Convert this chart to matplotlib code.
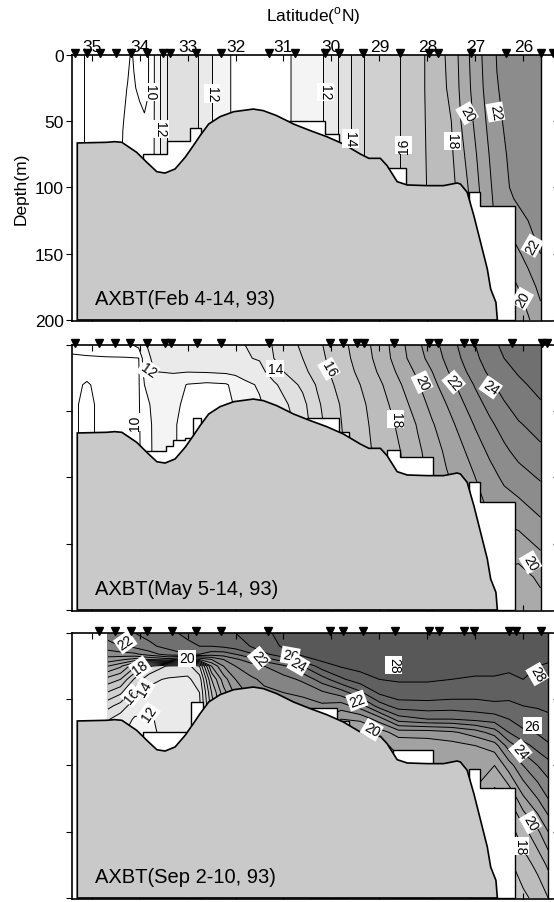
import matplotlib
matplotlib.use('Agg')
import matplotlib.pyplot as plt
from matplotlib.colors import ListedColormap, BoundaryNorm
import numpy as np

plt.rcParams.update({
    'font.family': ['Liberation Sans', 'DejaVu Sans'],
    'mathtext.fontset': 'custom',
    'mathtext.rm': 'Liberation Sans',
    'font.size': 12,
})

# ─── Bathymetry (same for all three sections) ────────────────
LAND_LAT = [35.30, 34.69, 34.52, 34.37, 34.06, 33.85, 33.64, 33.47, 33.26, 33.05,
            32.88, 32.74, 32.56, 32.32, 32.04, 31.63, 31.42, 31.14, 30.79, 30.44,
            30.10, 29.75, 29.40, 29.22, 28.98, 28.84, 28.63, 28.42, 28.00, 27.66,
            27.38, 27.31, 27.17, 27.03, 26.89, 26.75, 26.68, 26.57, 26.54]
LAND_DEP = [66.4, 65.9, 65.4, 65.9, 73.5, 81.0, 88.1, 89.1, 86.0, 77.2,
            68.4, 60.9, 52.1, 46.5, 42.8, 40.8, 42.0, 45.8, 52.1, 57.1,
            61.6, 67.2, 74.7, 78.0, 78.0, 83.5, 95.6, 98.1, 98.6, 98.6,
            96.6, 97.4, 103.6, 121.3, 141.4, 161.5, 176.6, 186.7, 200.0]

# ─── Feb 4-14 ────────────────────────────────────────────────
FEB_STATIONS = [35.35, 35.10, 34.83, 34.49, 34.18, 33.84, 33.51, 33.37, 32.83, 32.30,
                31.31, 30.76, 30.14, 29.85, 29.35, 28.58, 27.97, 27.78, 27.10, 26.35,
                25.63, 25.38]
FEB_DEP = [0, 25, 50, 75, 100, 125, 150, 175, 200]
FEB_LAT = [35.45, 35.25, 35.05, 34.60, 34.45, 34.35, 34.25, 34.17, 34.12, 34.00,
           33.90, 33.82, 33.75, 33.65, 33.52, 33.40, 33.10, 32.85, 32.63, 32.35,
           31.90, 31.30, 30.50, 30.20, 29.98, 29.72, 29.47, 29.20, 28.70, 28.30,
           27.85, 27.50, 27.30, 27.10, 26.85, 26.55, 26.20, 25.90, 25.64]
FEB_T = [
    [8.7, 8.7, 8.7, 8.7, 8.7, 8.7, 8.7, 8.7, 8.7],
    [8.8, 8.8, 8.8, 8.8, 8.8, 8.8, 8.8, 8.8, 8.8],
    [9.2, 9.2, 9.2, 9.2, 9.2, 9.2, 9.2, 9.2, 9.2],
    [9.5, 9.5, 9.5, 9.5, 9.5, 9.5, 9.5, 9.5, 9.5],
    [9.7, 9.7, 9.7, 9.7, 9.7, 9.7, 9.7, 9.7, 9.7],
    [9.80, 9.90, 9.98, 10.05, 10.1, 10.1, 10.1, 10.1, 10.1],
    [9.90, 10.02, 10.10, 10.20, 10.2, 10.2, 10.2, 10.2, 10.2],
    [10.05, 10.10, 10.20, 10.30, 10.3, 10.3, 10.3, 10.3, 10.3],
    [9.95, 10.05, 10.20, 10.30, 10.3, 10.3, 10.3, 10.3, 10.3],
    [9.80, 9.90, 10.15, 10.30, 10.3, 10.3, 10.3, 10.3, 10.3],
    [9.80, 9.85, 10.05, 10.30, 10.3, 10.3, 10.3, 10.3, 10.3],
    [9.96, 9.97, 10.10, 10.30, 10.3, 10.3, 10.3, 10.3, 10.3],
    [10.35, 10.35, 10.40, 10.45, 10.45, 10.45, 10.45, 10.45, 10.45],
    [11.5, 11.5, 11.5, 11.5, 11.5, 11.5, 11.5, 11.5, 11.5],
    [12.5, 12.5, 12.5, 12.5, 12.5, 12.5, 12.5, 12.5, 12.5],
    [13.2, 13.2, 13.2, 13.2, 13.2, 13.2, 13.2, 13.2, 13.2],
    [13.5, 13.5, 13.5, 13.5, 13.5, 13.5, 13.5, 13.5, 13.5],
    [13.2, 13.2, 13.2, 13.2, 13.2, 13.2, 13.2, 13.2, 13.2],
    [12.5, 12.5, 12.5, 12.5, 12.5, 12.5, 12.5, 12.5, 12.5],
    [11.5, 11.5, 11.5, 11.5, 11.5, 11.5, 11.5, 11.5, 11.5],
    [10.6, 10.6, 10.6, 10.6, 10.6, 10.6, 10.6, 10.6, 10.6],
    [10.6, 10.6, 10.6, 10.6, 10.6, 10.6, 10.6, 10.6, 10.6],
    [11.3, 11.3, 11.3, 11.3, 11.3, 11.3, 11.3, 11.3, 11.3],
    [11.9, 11.9, 11.9, 11.9, 11.9, 11.9, 11.9, 11.9, 11.9],
    [12.6, 12.6, 12.6, 12.6, 12.6, 12.6, 12.6, 12.6, 12.6],
    [13.5, 13.5, 13.5, 13.5, 13.5, 13.5, 13.5, 13.5, 13.5],
    [14.5, 14.5, 14.5, 14.5, 14.5, 14.5, 14.5, 14.5, 14.5],
    [15.4, 15.4, 15.4, 15.4, 15.4, 15.4, 15.4, 15.4, 15.4],
    [15.8, 15.8, 15.8, 15.8, 15.8, 15.8, 15.8, 15.8, 15.8],
    [16.4, 16.4, 16.4, 16.4, 16.4, 16.4, 16.4, 16.4, 16.4],
    [17.5, 17.5, 17.45, 17.4, 17.35, 17.3, 17.3, 17.3, 17.3],
    [18.3, 18.2, 18.0, 17.85, 17.7, 17.6, 17.6, 17.6, 17.6],
    [19.3, 19.2, 19.0, 18.7, 18.4, 18.2, 18.0, 18.0, 18.0],
    [20.1, 20.0, 19.8, 19.5, 19.2, 19.0, 18.8, 18.7, 18.6],
    [21.05, 20.95, 20.75, 20.5, 20.3, 20.1, 19.9, 19.7, 19.6],
    [22.05, 21.95, 21.8, 21.6, 21.4, 21.2, 20.8, 20.4, 20.0],
    [22.5, 22.45, 22.4, 22.3, 22.2, 21.6, 20.6, 19.8, 19.2],
    [22.7, 22.7, 22.65, 22.55, 22.4, 22.0, 21.4, 20.5, 19.9],
    [22.8, 22.8, 22.8, 22.7, 22.6, 22.4, 22.0, 21.3, 20.6],
]
FEB_GAPS = [
    [(33.93, 33.42, 74.7), (33.42, 32.95, 64.7), (32.95, 32.73, 55.3)],
    [(30.92, 30.13, 49.6), (30.13, 29.85, 60.0)],
    [(28.83, 28.45, 85.5)],
    [(27.14, 26.90, 103.6), (26.90, 26.17, 113.7)],
]
FEB_LABELS = [
    (33.78, 28, '10', -90), (33.57, 56, '12', -90), (32.49, 29, '12', -90),
    (30.13, 28, '12', -90), (29.61, 63, '14', -90), (28.49, 68, '16', 90),
    (27.48, 65, '18', -90), (27.17, 44, '20', -60), (26.58, 43, '22', -80),
    (25.81, 144, '22', 60), (26.02, 184, '20', 60),
]

# ─── May 5-14 ────────────────────────────────────────────────
MAY_STATIONS = [35.35, 34.84, 34.51, 34.20, 33.84, 33.47, 33.34, 32.81, 32.30, 31.31,
                30.04, 29.75, 29.47, 29.33, 28.70, 27.97, 27.78, 27.24, 27.03, 26.23,
                25.60, 25.50]
MAY_DEP = [0, 10, 20, 30, 45, 60, 80, 100, 125, 150, 175, 200]
MAY_LAT = [35.45, 35.10, 34.70, 34.30, 34.02, 33.90, 33.70, 33.30, 33.00, 32.60,
           32.20, 32.00, 31.80, 31.50, 31.20, 30.90, 30.60, 30.30, 30.00, 29.70,
           29.40, 29.10, 28.80, 28.50, 28.20, 27.90, 27.60, 27.30, 27.00, 26.70,
           26.40, 26.10, 25.64]
MAY_T = [
    [10.3, 9.85, 9.5, 9.3, 9.2, 9.2, 9.2, 9.2, 9.2, 9.2, 9.2, 9.2],
    [10.4, 9.9, 9.3, 8.9, 8.8, 8.8, 8.8, 8.8, 8.8, 8.8, 8.8, 8.8],
    [10.4, 9.95, 9.6, 9.4, 9.3, 9.3, 9.3, 9.3, 9.3, 9.3, 9.3, 9.3],
    [10.6, 9.95, 9.7, 9.6, 9.5, 9.5, 9.5, 9.5, 9.5, 9.5, 9.5, 9.5],
    [11.3, 9.98, 9.9, 9.9, 9.9, 9.9, 9.9, 9.9, 9.9, 9.9, 9.9, 9.9],
    [11.9, 11.6, 11.3, 11.0, 10.6, 10.4, 10.3, 10.3, 10.3, 10.3, 10.3, 10.3],
    [12.3, 12.2, 12.0, 11.6, 11.3, 11.2, 11.2, 11.2, 11.2, 11.2, 11.2, 11.2],
    [12.5, 12.4, 12.1, 11.4, 11.2, 11.1, 11.1, 11.1, 11.1, 11.1, 11.1, 11.1],
    [12.6, 12.5, 12.05, 10.95, 10.8, 10.7, 10.7, 10.7, 10.7, 10.7, 10.7, 10.7],
    [12.7, 12.6, 12.1, 10.8, 10.6, 10.6, 10.6, 10.6, 10.6, 10.6, 10.6, 10.6],
    [12.8, 12.7, 12.2, 10.9, 10.7, 10.6, 10.6, 10.6, 10.6, 10.6, 10.6, 10.6],
    [12.9, 12.8, 12.3, 11.3, 11.1, 11.0, 11.0, 11.0, 11.0, 11.0, 11.0, 11.0],
    [13.0, 12.9, 12.4, 11.8, 11.5, 11.4, 11.4, 11.4, 11.4, 11.4, 11.4, 11.4],
    [13.4, 13.1, 12.6, 12.1, 11.9, 11.8, 11.8, 11.8, 11.8, 11.8, 11.8, 11.8],
    [14.1, 14.0, 13.6, 12.8, 12.4, 12.2, 12.2, 12.2, 12.2, 12.2, 12.2, 12.2],
    [14.6, 14.5, 14.2, 13.6, 13.0, 12.7, 12.6, 12.6, 12.6, 12.6, 12.6, 12.6],
    [15.2, 15.0, 14.7, 14.2, 13.7, 13.5, 13.4, 13.4, 13.4, 13.4, 13.4, 13.4],
    [15.8, 15.7, 15.5, 15.1, 14.8, 14.6, 14.5, 14.5, 14.5, 14.5, 14.5, 14.5],
    [16.3, 16.2, 16.1, 15.9, 15.6, 15.5, 15.4, 15.4, 15.4, 15.4, 15.4, 15.4],
    [16.9, 16.8, 16.7, 16.5, 16.3, 16.2, 16.1, 16.1, 16.1, 16.1, 16.1, 16.1],
    [17.5, 17.4, 17.2, 17.0, 16.8, 16.7, 16.6, 16.6, 16.6, 16.6, 16.6, 16.6],
    [18.2, 18.1, 17.9, 17.6, 17.3, 17.2, 17.1, 17.0, 17.0, 17.0, 17.0, 17.0],
    [19.0, 18.9, 18.6, 18.3, 18.0, 17.8, 17.6, 17.5, 17.5, 17.5, 17.5, 17.5],
    [19.9, 19.8, 19.5, 19.1, 18.7, 18.3, 18.1, 18.0, 18.0, 18.0, 18.0, 18.0],
    [20.8, 20.6, 20.2, 19.9, 19.5, 19.1, 18.8, 18.6, 18.6, 18.6, 18.6, 18.6],
    [21.6, 21.4, 21.0, 20.7, 20.3, 19.9, 19.5, 19.3, 19.3, 19.3, 19.3, 19.3],
    [22.4, 22.2, 21.9, 21.5, 21.0, 20.6, 20.2, 19.9, 19.9, 19.9, 19.9, 19.9],
    [23.2, 23.0, 22.7, 22.3, 21.8, 21.3, 20.8, 20.4, 20.1, 20.1, 20.1, 20.1],
    [24.0, 23.8, 23.5, 23.1, 22.6, 22.1, 21.5, 21.0, 20.6, 20.6, 20.6, 20.6],
    [24.7, 24.5, 24.2, 23.8, 23.3, 22.8, 22.2, 21.6, 21.1, 20.6, 20.6, 20.6],
    [25.2, 25.0, 24.7, 24.4, 23.9, 23.4, 22.8, 22.2, 21.4, 20.5, 19.8, 19.3],
    [25.6, 25.4, 25.1, 24.8, 24.4, 23.9, 23.3, 22.6, 21.6, 20.6, 19.6, 19.0],
    [26.0, 25.8, 25.6, 25.3, 24.9, 24.4, 23.8, 23.1, 22.2, 21.2, 20.2, 19.6],
]
MAY_GAPS = [
    [(33.92, 33.44, 80.0), (33.44, 33.30, 76.0), (33.30, 33.05, 72.0),
     (33.05, 32.88, 70.0), (32.88, 32.73, 55.3)],
    [(30.50, 29.84, 55.3), (29.84, 29.63, 66.0)],
    [(28.85, 28.57, 79.2), (28.57, 27.88, 84.3)],
    [(27.14, 26.90, 103.6), (26.90, 26.17, 118.7)],
]
MAY_LABELS = [
    (34.10, 58, '10', 90), (33.82, 19, '12', -35), (31.17, 18, '14', 0),
    (30.05, 18, '16', -60), (28.66, 56, '18', -90), (28.11, 28, '20', -65),
    (27.45, 28, '22', -50), (26.68, 32, '24', -35), (25.85, 164, '20', -60),
]

# ─── Sep 2-10 ────────────────────────────────────────────────
SEP_STATIONS = [34.84, 34.51, 34.18, 33.84, 33.33, 32.83, 32.30, 31.33, 30.04, 29.76,
                29.34, 28.67, 27.97, 27.76, 27.24, 27.03, 26.30, 26.16, 25.63]
SEP_DEP = [0, 10, 16, 20, 25, 35, 45, 55, 65, 75, 85, 100, 125, 150, 175, 200]
SEP_LAT = [34.66, 34.40, 34.10, 33.80, 33.40, 33.00, 32.75, 32.50, 32.25, 32.00,
           31.70, 31.40, 31.00, 30.60, 30.20, 29.80, 29.40, 29.00, 28.60, 28.00,
           27.50, 27.00, 26.60, 26.30, 26.00, 25.70, 25.48]
SEP_T = [
    [24.5, 23.6, 22.4, 21.6, 20.0, 17.6, 15.9, 14.3, 13.1, 12.6, 12.4, 12.3, 12.3, 12.3, 12.3, 12.3],
    [24.8, 24.0, 22.6, 21.2, 19.2, 17.0, 15.2, 13.6, 12.5, 12.1, 12.0, 12.0, 12.0, 12.0, 12.0, 12.0],
    [25.0, 24.3, 22.8, 20.6, 17.2, 14.8, 13.5, 12.4, 11.9, 11.8, 11.8, 11.8, 11.8, 11.8, 11.8, 11.8],
    [25.3, 24.8, 23.5, 21.0, 15.2, 13.2, 12.8, 12.3, 11.9, 11.8, 11.8, 11.8, 11.8, 11.8, 11.8, 11.8],
    [25.8, 25.3, 24.5, 21.5, 13.8, 12.9, 12.6, 12.4, 12.3, 12.3, 12.3, 12.3, 12.3, 12.3, 12.3, 12.3],
    [26.2, 25.8, 25.0, 20.0, 13.6, 12.8, 12.6, 12.5, 12.4, 12.4, 12.4, 12.4, 12.4, 12.4, 12.4, 12.4],
    [26.4, 26.0, 25.0, 21.0, 15.0, 13.5, 13.0, 12.8, 12.8, 12.8, 12.8, 12.8, 12.8, 12.8, 12.8, 12.8],
    [26.6, 26.0, 24.5, 22.0, 20.0, 18.0, 17.0, 16.5, 16.5, 16.5, 16.5, 16.5, 16.5, 16.5, 16.5, 16.5],
    [26.8, 26.2, 24.5, 23.0, 22.0, 20.5, 19.6, 19.2, 19.2, 19.2, 19.2, 19.2, 19.2, 19.2, 19.2, 19.2],
    [27.0, 26.5, 25.0, 23.8, 23.0, 22.0, 21.3, 21.0, 21.0, 21.0, 21.0, 21.0, 21.0, 21.0, 21.0, 21.0],
    [27.3, 27.0, 25.8, 24.5, 23.5, 22.8, 22.3, 22.0, 22.0, 22.0, 22.0, 22.0, 22.0, 22.0, 22.0, 22.0],
    [27.8, 27.6, 26.8, 25.5, 24.0, 23.2, 22.8, 22.5, 22.5, 22.5, 22.5, 22.5, 22.5, 22.5, 22.5, 22.5],
    [28.3, 28.1, 27.6, 26.5, 24.8, 23.6, 23.0, 22.7, 22.7, 22.7, 22.7, 22.7, 22.7, 22.7, 22.7, 22.7],
    [28.6, 28.5, 28.2, 27.6, 26.0, 24.2, 23.2, 22.6, 22.3, 22.3, 22.3, 22.3, 22.3, 22.3, 22.3, 22.3],
    [28.8, 28.7, 28.5, 28.2, 27.5, 25.5, 23.8, 22.8, 22.0, 21.6, 21.6, 21.6, 21.6, 21.6, 21.6, 21.6],
    [28.9, 28.8, 28.6, 28.4, 28.1, 26.8, 24.5, 22.5, 21.0, 20.5, 20.2, 20.2, 20.2, 20.2, 20.2, 20.2],
    [29.0, 28.9, 28.8, 28.6, 28.3, 27.6, 25.8, 23.5, 21.2, 20.0, 19.7, 19.7, 19.7, 19.7, 19.7, 19.7],
    [29.0, 29.0, 28.9, 28.7, 28.5, 28.0, 27.2, 25.5, 22.5, 20.5, 19.8, 19.6, 19.6, 19.6, 19.6, 19.6],
    [29.0, 29.0, 28.9, 28.8, 28.6, 28.1, 27.6, 26.5, 24.5, 21.5, 20.2, 19.8, 19.8, 19.8, 19.8, 19.8],
    [29.0, 28.9, 28.8, 28.7, 28.5, 28.1, 27.6, 26.6, 25.0, 21.5, 20.4, 20.0, 20.0, 20.0, 20.0, 20.0],
    [29.0, 28.9, 28.8, 28.7, 28.4, 28.0, 27.5, 26.5, 25.0, 21.8, 20.6, 20.2, 20.2, 20.2, 20.2, 20.2],
    [29.0, 28.9, 28.8, 28.6, 28.3, 27.9, 27.4, 26.6, 25.3, 22.5, 21.0, 20.4, 19.8, 19.8, 19.8, 19.8],
    [28.8, 28.7, 28.6, 28.5, 28.3, 27.9, 27.4, 26.8, 25.5, 23.5, 21.5, 20.0, 18.5, 17.8, 17.3, 17.0],
    [28.6, 28.5, 28.4, 28.3, 28.2, 27.8, 27.3, 26.8, 26.0, 25.0, 23.5, 21.5, 19.0, 17.5, 16.8, 16.5],
    [28.6, 28.5, 28.4, 28.3, 28.2, 28.0, 27.5, 27.0, 26.5, 25.8, 24.6, 23.0, 20.8, 18.6, 17.5, 16.8],
    [28.5, 28.4, 28.3, 28.2, 28.0, 27.8, 27.5, 27.1, 26.6, 26.1, 25.4, 24.0, 22.0, 19.8, 18.3, 17.3],
    [28.4, 28.3, 28.2, 28.1, 27.9, 27.7, 27.5, 27.2, 26.8, 26.3, 25.9, 24.6, 23.0, 21.0, 19.2, 18.0],
]
SEP_GAPS = [
    [(33.92, 32.92, 75.0), (32.92, 32.68, 52.3)],
    [(30.45, 29.89, 56.9), (29.89, 29.64, 66.2)],
    [(28.71, 27.88, 88.3)],
    [(27.14, 26.90, 102.6), (26.90, 26.17, 117.2)],
]
SEP_LABELS = [
    (34.30, 7, '22', 35), (33.99, 26, '18', 35), (34.16, 47, '16', 50),
    (33.91, 42, '14', 60), (33.81, 61, '12', 55), (33.01, 19, '20', 0),
    (31.51, 19, '22', -50), (30.86, 17, '26', -10), (30.69, 24, '24', -30),
    (28.70, 24, '28', -90), (29.47, 51, '22', 20), (29.16, 73, '20', -30),
    (25.71, 31, '28', -60), (25.81, 70, '26', 0), (26.06, 89, '24', -50),
    (25.85, 143, '20', -60), (26.06, 161, '18', -90),
]

PANELS = [
    ('AXBT(Feb 4-14, 93)', FEB_LAT, FEB_DEP, FEB_T, FEB_GAPS, FEB_LABELS, FEB_STATIONS, 25.64),
    ('AXBT(May 5-14, 93)', MAY_LAT, MAY_DEP, MAY_T, MAY_GAPS, MAY_LABELS, MAY_STATIONS, 25.64),
    ('AXBT(Sep 2-10, 93)', SEP_LAT, SEP_DEP, SEP_T, SEP_GAPS, SEP_LABELS, SEP_STATIONS, 25.48),
]

# grey shade for each 1 degree band, 8..30 C
LEVELS = np.arange(8, 31, 1)
BAND_GREY = [255, 255, 255, 244, 234, 224, 216, 208, 198, 188, 180, 170, 162,
             152, 140, 132, 122, 112, 104, 96, 88, 80]
cmap = ListedColormap([(g / 255, g / 255, g / 255) for g in BAND_GREY])
norm = BoundaryNorm(LEVELS, cmap.N)

LAND_GREY = '#c9c9c9'
TOPS_PX = [56, 346, 634]
H_PX = 266.3
W, H = 554, 903

fig = plt.figure(figsize=(W / 100, H / 100), dpi=100)
lat_ticks = np.arange(26, 36)

for i, (title, lat, dep, temp, gaps, labels, stations, edge) in enumerate(PANELS):
    bottom = 1 - (TOPS_PX[i] + H_PX) / H
    ax = fig.add_axes([72 / W, bottom, 481 / W, H_PX / H])
    lat = np.array(lat)
    dep = np.array(dep)
    T = np.array(temp).T
    ax.contourf(lat, dep, T, levels=LEVELS, cmap=cmap, norm=norm, zorder=1)
    ax.contour(lat, dep, T, levels=LEVELS, colors='black', linewidths=0.7, zorder=2)

    # no-data areas under the deepest casts
    for g in gaps:
        px = [g[0][0]]
        py = [200]
        for a, b, d in g:
            px += [a, b]
            py += [d, d]
        px.append(g[-1][1])
        py.append(200)
        ax.fill(px, py, facecolor='white', edgecolor='black', lw=1.0, zorder=3)

    ax.fill(LAND_LAT + [LAND_LAT[0]], LAND_DEP + [200], facecolor=LAND_GREY,
            edgecolor='black', lw=1.2, zorder=4)
    ax.plot([edge, edge], [0, 200], color='black', lw=1.0, zorder=4)

    for la, de, txt, rot in labels:
        ax.text(la, de, txt, fontsize=10, rotation=rot, ha='center', va='center',
                rotation_mode='anchor', zorder=5,
                bbox=dict(boxstyle='square,pad=0.1', fc='white', ec='none'))

    ax.plot(stations, [-1.5] * len(stations), 'v', color='black', ms=6,
            clip_on=False, zorder=6)
    ax.text(34.93, 184, title, fontsize=14.5, ha='left', va='center', zorder=6)

    ax.set_xlim(35.41, 25.38)
    ax.set_ylim(201, 0)
    ax.spines['right'].set_visible(False)
    for s in ['left', 'top', 'bottom']:
        ax.spines[s].set_linewidth(1.2)
    ax.set_xticks(lat_ticks)
    ax.set_yticks([0, 50, 100, 150, 200])
    ax.tick_params(axis='x', top=True, bottom=True, direction='in', length=4,
                   labeltop=(i == 0), labelbottom=False, labelsize=12.5, pad=1)
    ax.tick_params(axis='y', left=True, right=True, direction='out', length=4,
                   labelleft=(i == 0), labelsize=12.5, pad=2)
    if i == 0:
        ax.set_ylabel('Depth(m)', fontsize=12.5, labelpad=4)

fig.text(0.565, 0.982, 'Latitude($^{\\mathrm{o}}$N)', ha='center', va='center', fontsize=12.5)
fig.savefig('out.png', dpi=100)
